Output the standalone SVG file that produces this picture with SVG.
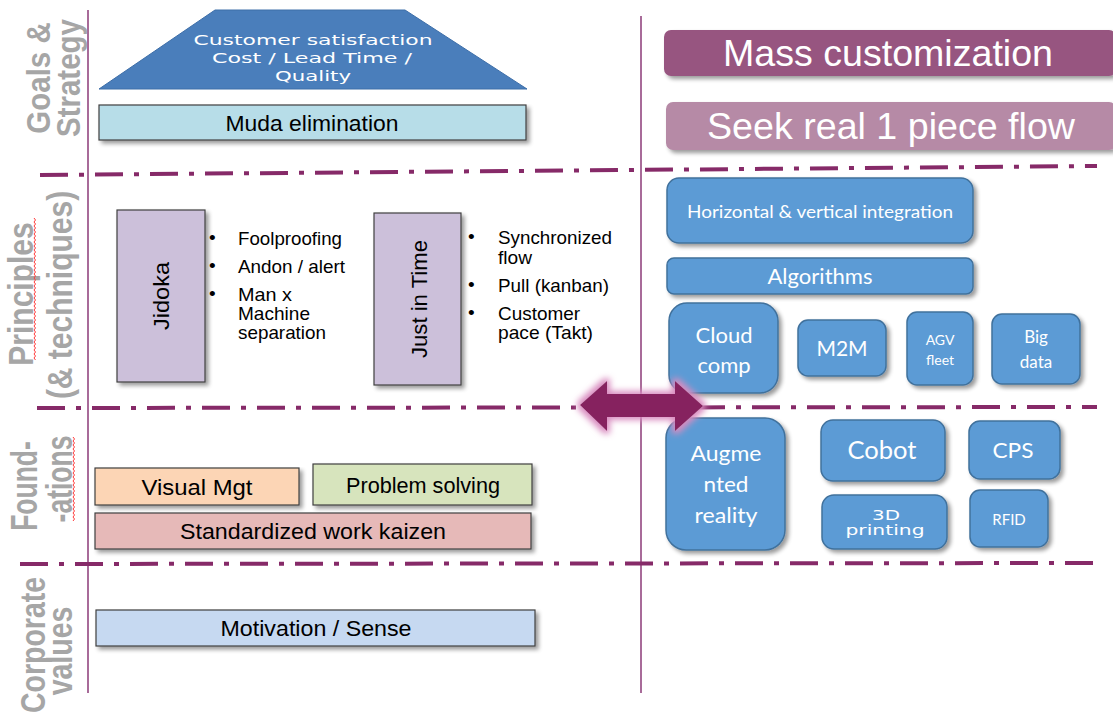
<svg xmlns="http://www.w3.org/2000/svg" width="1113" height="716" viewBox="0 0 1113 716">
<defs>
<style>
.lbl{font-family:"Liberation Sans",Arial,sans-serif;font-weight:bold;fill:#a6a6a6;text-anchor:middle}
.ln{fill:none;stroke:#862a68;stroke-width:4;stroke-dasharray:28 11 5 11}
.vl{stroke:#8b3a77;stroke-width:1.5}
.box{stroke:#404040;stroke-width:1.2}
.t{font-family:"Liberation Sans",Arial,sans-serif;font-size:22px;fill:#000;text-anchor:middle}
.b{font-family:"Liberation Sans",Arial,sans-serif;font-size:19px;fill:#000}
.blue{fill:#5b9bd5;stroke:#41719c;stroke-width:1.5}
.bt{font-family:Lato,"Open Sans",sans-serif;fill:#fff;text-anchor:middle}
.pt{font-family:"Liberation Sans",Arial,sans-serif;font-size:37px;fill:#fff;text-anchor:middle}
.gt{font-family:"DejaVu Sans",sans-serif;font-size:14px;fill:#fff;text-anchor:middle}
.sq{fill:none;stroke:#ff3b3b;stroke-width:1}
</style>
<filter id="sh" x="-10%" y="-10%" width="130%" height="140%">
<feGaussianBlur in="SourceAlpha" stdDeviation="2"/>
<feOffset dx="3" dy="3" result="o"/>
<feComponentTransfer><feFuncA type="linear" slope="0.4"/></feComponentTransfer>
<feMerge><feMergeNode/><feMergeNode in="SourceGraphic"/></feMerge>
</filter>
<filter id="glow" x="-20%" y="-50%" width="140%" height="200%">
<feMorphology in="SourceAlpha" operator="dilate" radius="3" result="d"/>
<feGaussianBlur in="d" stdDeviation="3" result="bl"/>
<feFlood flood-color="#d98cc0"/>
<feComposite in2="bl" operator="in"/>
<feMerge><feMergeNode/><feMergeNode in="SourceGraphic"/></feMerge>
</filter>
</defs>
<rect width="1113" height="716" fill="#fff"/>

<g id="connectors">
<line class="vl" x1="88" y1="10" x2="88" y2="693"/>
<line class="vl" x1="641" y1="16" x2="641" y2="693"/>
<path class="ln" d="M40 175 L1097 166"/>
<path class="ln" d="M37 408 L1097 407"/>
<path class="ln" d="M20 564 L1097 563"/>
</g>

<g id="labels">
<text class="lbl" font-size="29.5" transform="translate(50,78) scale(1.1,1) rotate(-90)">Goals &amp;</text>
<text class="lbl" font-size="29.5" transform="translate(80,78) scale(1.1,1) rotate(-90)">Strategy</text>
<text class="lbl" font-size="30" transform="translate(33,294) scale(1.15,1) rotate(-90)">Principles</text>
<text class="lbl" font-size="30" transform="translate(72,295) scale(1.15,1) rotate(-90)">(&amp; techniques)</text>
<text class="lbl" font-size="26.5" transform="translate(37,486) scale(1.4,1) rotate(-90)">Found-</text>
<text class="lbl" font-size="26.5" transform="translate(72,479) scale(1.4,1) rotate(-90)">-ations</text>
<text class="lbl" font-size="28.5" transform="translate(45,645) scale(1.2,1) rotate(-90)">Corporate</text>
<text class="lbl" font-size="28.5" transform="translate(72,651) scale(1.2,1) rotate(-90)">values</text>
<path class="sq" d="M34 218 l1.5 2 l-1.5 2 l1.5 2 l-1.5 2 l1.5 2 l-1.5 2 l1.5 2 l-1.5 2 l1.5 2 l-1.5 2 l1.5 2 l-1.5 2 l1.5 2 l-1.5 2 l1.5 2 l-1.5 2 l1.5 2 l-1.5 2 l1.5 2 l-1.5 2 l1.5 2 l-1.5 2 l1.5 2 l-1.5 2 l1.5 2 l-1.5 2 l1.5 2 l-1.5 2 l1.5 2 l-1.5 2 l1.5 2 l-1.5 2 l1.5 2 l-1.5 2 l1.5 2 l-1.5 2 l1.5 2 l-1.5 2 l1.5 2 l-1.5 2 l1.5 2 l-1.5 2 l1.5 2 l-1.5 2 l1.5 2 l-1.5 2 l1.5 2 l-1.5 2 l1.5 2 l-1.5 2 l1.5 2 l-1.5 2 l1.5 2 l-1.5 2 l1.5 2 l-1.5 2 l1.5 2 l-1.5 2 l1.5 2 l-1.5 2 l1.5 2 l-1.5 2 l1.5 2 l-1.5 2 l1.5 2 l-1.5 2 l1.5 2 l-1.5 2 l1.5 2 l-1.5 2 l1.5 2"/>
<path class="sq" d="M73 437 l1.5 2 l-1.5 2 l1.5 2 l-1.5 2 l1.5 2 l-1.5 2 l1.5 2 l-1.5 2 l1.5 2 l-1.5 2 l1.5 2 l-1.5 2 l1.5 2 l-1.5 2 l1.5 2 l-1.5 2 l1.5 2 l-1.5 2 l1.5 2 l-1.5 2 l1.5 2 l-1.5 2 l1.5 2 l-1.5 2 l1.5 2 l-1.5 2 l1.5 2 l-1.5 2 l1.5 2 l-1.5 2 l1.5 2 l-1.5 2 l1.5 2 l-1.5 2 l1.5 2 l-1.5 2 l1.5 2 l-1.5 2 l1.5 2 l-1.5 2 l1.5 2 l-1.5 2"/>
</g>

<g id="goals">
<polygon points="215,10 405,10 527,89 99,89" fill="#4a7ebb" stroke="#3d6ea8" stroke-width="1"/>
<text class="gt" x="313" y="45" textLength="239" lengthAdjust="spacingAndGlyphs">Customer satisfaction</text>
<text class="gt" x="312" y="63" textLength="200" lengthAdjust="spacingAndGlyphs">Cost / Lead Time /</text>
<text class="gt" x="313" y="81" textLength="76" lengthAdjust="spacingAndGlyphs">Quality</text>
</g>
<g id="muda">
<rect class="box" x="99" y="105" width="427" height="35" fill="#b7dde8" filter="url(#sh)"/>
<text class="t" x="312" y="131" textLength="173" lengthAdjust="spacingAndGlyphs">Muda elimination</text>
</g>

<g id="jidoka">
<rect class="box" x="117" y="210" width="88" height="172" fill="#ccc0da" filter="url(#sh)"/>
<text class="t" transform="translate(169,296) rotate(-90)" font-size="21" textLength="68" lengthAdjust="spacingAndGlyphs">Jidoka</text>
<text class="b" x="209" y="244">•</text><text class="b" x="238" y="245" textLength="104" lengthAdjust="spacingAndGlyphs">Foolproofing</text>
<text class="b" x="209" y="272">•</text><text class="b" x="238" y="273" textLength="107" lengthAdjust="spacingAndGlyphs">Andon / alert</text>
<text class="b" x="209" y="300">•</text><text class="b" x="238" y="301" textLength="54" lengthAdjust="spacingAndGlyphs">Man x</text>
<text class="b" x="238" y="320" textLength="72" lengthAdjust="spacingAndGlyphs">Machine</text>
<text class="b" x="238" y="339" textLength="88" lengthAdjust="spacingAndGlyphs">separation</text>
</g>
<g id="jit">
<rect class="box" x="374" y="213" width="87" height="172" fill="#ccc0da" filter="url(#sh)"/>
<text class="t" transform="translate(427,299) rotate(-90)" font-size="21" textLength="118" lengthAdjust="spacingAndGlyphs">Just in Time</text>
<text class="b" x="468" y="243">•</text><text class="b" x="498" y="244" textLength="114" lengthAdjust="spacingAndGlyphs">Synchronized</text>
<text class="b" x="498" y="264" textLength="34" lengthAdjust="spacingAndGlyphs">flow</text>
<text class="b" x="468" y="291">•</text><text class="b" x="498" y="292" textLength="111" lengthAdjust="spacingAndGlyphs">Pull (kanban)</text>
<text class="b" x="468" y="319">•</text><text class="b" x="498" y="320" textLength="82" lengthAdjust="spacingAndGlyphs">Customer</text>
<text class="b" x="498" y="339" textLength="95" lengthAdjust="spacingAndGlyphs">pace (Takt)</text>
</g>

<g id="visual">
<rect class="box" x="95" y="468" width="204" height="37" fill="#fcd5b5" filter="url(#sh)"/>
<text class="t" x="197" y="495" textLength="111" lengthAdjust="spacingAndGlyphs">Visual Mgt</text>
</g>
<g id="problem">
<rect class="box" x="313" y="464" width="219" height="41" fill="#d7e4bd" filter="url(#sh)"/>
<text class="t" x="423" y="493" textLength="154" lengthAdjust="spacingAndGlyphs">Problem solving</text>
</g>
<g id="standard">
<rect class="box" x="95" y="513" width="436" height="36" fill="#e6b9b8" filter="url(#sh)"/>
<text class="t" x="313" y="539" textLength="266" lengthAdjust="spacingAndGlyphs">Standardized work kaizen</text>
</g>
<g id="motivation">
<rect class="box" x="96" y="610" width="439" height="36" fill="#c6d9f1" filter="url(#sh)"/>
<text class="t" x="316" y="636" textLength="191" lengthAdjust="spacingAndGlyphs">Motivation / Sense</text>
</g>

<g id="mass">
<rect x="664" y="30" width="452" height="46" rx="7" fill="#975580" filter="url(#sh)"/>
<text class="pt" x="888" y="66" textLength="330" lengthAdjust="spacingAndGlyphs">Mass customization</text>
</g>
<g id="seek">
<rect x="666" y="102" width="450" height="48" rx="7" fill="#b68aa6" filter="url(#sh)"/>
<text class="pt" x="891" y="139" textLength="368" lengthAdjust="spacingAndGlyphs">Seek real 1 piece flow</text>
</g>

<g id="hvi">
<rect class="blue" x="667" y="178" width="306" height="65" rx="12" filter="url(#sh)"/>
<text class="bt" x="820" y="218" font-size="18" textLength="266" lengthAdjust="spacingAndGlyphs">Horizontal &amp; vertical integration</text>
</g>
<g id="algo">
<rect class="blue" x="667" y="258" width="306" height="36" rx="7" filter="url(#sh)"/>
<text class="bt" x="820" y="284" font-size="21" textLength="105" lengthAdjust="spacingAndGlyphs">Algorithms</text>
</g>
<g id="cloud">
<rect class="blue" x="669" y="303" width="109" height="90" rx="18" filter="url(#sh)"/>
<text class="bt" x="724" y="343" font-size="22">Cloud</text>
<text class="bt" x="724" y="373" font-size="22">comp</text>
</g>
<g id="m2m">
<rect class="blue" x="798" y="320" width="88" height="56" rx="10" filter="url(#sh)"/>
<text class="bt" x="842" y="356" font-size="21">M2M</text>
</g>
<g id="agv">
<rect class="blue" x="907" y="312" width="66" height="73" rx="10" filter="url(#sh)"/>
<text class="bt" x="940" y="345" font-size="14">AGV</text>
<text class="bt" x="940" y="365" font-size="14">fleet</text>
</g>
<g id="bigdata">
<rect class="blue" x="992" y="314" width="88" height="70" rx="10" filter="url(#sh)"/>
<text class="bt" x="1036" y="343" font-size="17">Big</text>
<text class="bt" x="1036" y="368" font-size="17">data</text>
</g>
<g id="ar">
<rect class="blue" x="666" y="418" width="119" height="132" rx="20" filter="url(#sh)"/>
<text class="bt" x="726" y="461" font-size="22" textLength="71" lengthAdjust="spacingAndGlyphs">Augme</text>
<text class="bt" x="726" y="492" font-size="22" textLength="45" lengthAdjust="spacingAndGlyphs">nted</text>
<text class="bt" x="726" y="523" font-size="22" textLength="63" lengthAdjust="spacingAndGlyphs">reality</text>
</g>
<g id="cobot">
<rect class="blue" x="821" y="420" width="124" height="61" rx="12" filter="url(#sh)"/>
<text class="bt" x="882" y="459" font-size="25" textLength="69" lengthAdjust="spacingAndGlyphs">Cobot</text>
</g>
<g id="cps">
<rect class="blue" x="969" y="421" width="91" height="58" rx="11" filter="url(#sh)"/>
<text class="bt" x="1013" y="458" font-size="21" textLength="41" lengthAdjust="spacingAndGlyphs">CPS</text>
</g>
<g id="print3d">
<rect class="blue" x="822" y="495" width="125" height="54" rx="12" filter="url(#sh)"/>
<text class="gt" x="886" y="520" font-size="12" textLength="28" lengthAdjust="spacingAndGlyphs">3D</text>
<text class="gt" x="885" y="535" font-size="12" textLength="79" lengthAdjust="spacingAndGlyphs">printing</text>
</g>
<g id="rfid">
<rect class="blue" x="970" y="490" width="78" height="57" rx="10" filter="url(#sh)"/>
<text class="bt" x="1009" y="525" font-size="15">RFID</text>
</g>

<g id="arrow">
<polygon points="580,405 607,381 607,394 675,394 675,381 703,406 675,431 675,417 607,417 607,431" fill="#86235f" filter="url(#glow)"/>
</g>
</svg>
